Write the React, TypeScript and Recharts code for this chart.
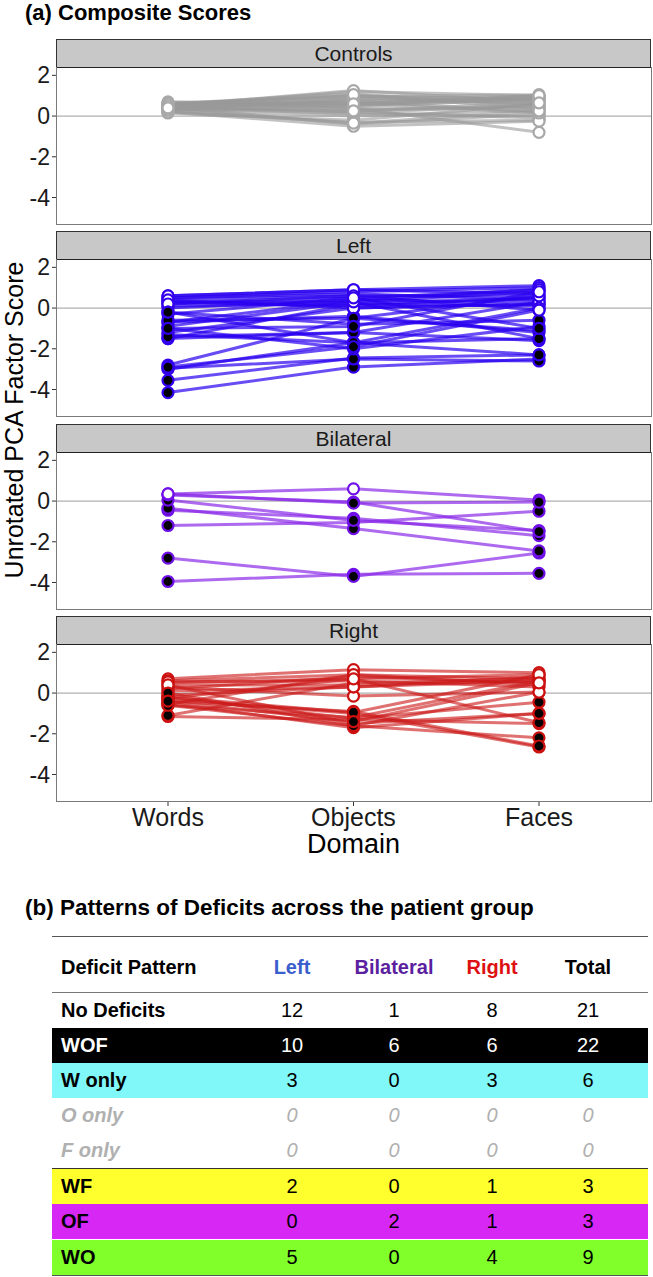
import React from 'react';
import { LineChart, Line, XAxis, YAxis, ReferenceLine } from 'recharts';

const domains = ['Words', 'Objects', 'Faces'];
const domainCodes = ['W', 'O', 'F'];
const yTicks = [2, 0, -2, -4];

// [Words, Objects, Faces] per participant
const controlScores = [
  [0.5, 1.2, 1.0], [0.6, 1.0, 0.8], [0.4, 0.7, 0.9], [0.55, 0.9, 0.6], [0.3, 0.3, 0.4],
  [0.65, 0.5, 1.0], [0.2, -0.3, -0.2], [0.45, -0.4, 0.1], [0.6, 1.1, 0.5], [0.35, 0.8, 0.7],
  [0.5, 0.2, -0.1], [0.7, 0.6, 0.9], [0.25, 0.0, 0.3], [0.4, 0.4, -0.8], [0.55, 0.75, 0.2],
  [0.15, -0.2, 0.6], [0.6, 0.95, 1.05], [0.45, 0.1, 0.0], [0.3, 0.55, 0.8], [0.5, 1.25, 0.7],
  [0.65, 0.35, 0.45], [0.2, -0.5, -0.25], [0.4, 0.85, 0.95], [0.55, 0.65, 0.15], [0.35, 0.15, 0.55],
  [0.6, 0.45, 0.85], [0.45, 1.05, 0.35], [0.3, -0.35, 0.25], [0.5, 0.6, 1.0], [0.4, 0.25, 0.65],
];
const controlPatterns = controlScores.map(() => '');

const leftScores = [
  [0.6, 0.9, 1.1], [0.5, 0.8, 1.0], [0.3, 0.3, 0.8], [0.4, 0.6, 0.6], [0.2, 0.5, 0.9], [0.5, 0.7, 0.4],
  [0.1, 0.2, 0.1], [0.6, 0.9, 0.7], [0.3, 0.1, 0.5], [0.0, 0.4, 0.3], [0.4, 0.0, 0.2], [0.2, 0.6, -0.1],
  [-4.15, -2.9, -2.5], [-3.55, -2.45, -2.3], [-3.0, -1.7, -1.5], [-2.8, -0.5, -1.1], [-2.95, -2.5, -2.6],
  [-1.5, -1.2, -1.6], [-1.3, -1.7, -2.3], [-0.7, -0.4, -1.2], [-1.0, -2.0, -0.9], [-0.2, -0.8, -0.6],
  [-1.5, 0.2, 0.5], [-0.7, 0.4, 0.9], [-1.2, 0.0, 0.2],
  [-0.9, 0.3, -1.5], [-0.3, 0.5, -1.0],
  [-1.4, -1.2, 0.3], [-0.6, -0.5, 0.6], [-0.2, -1.7, 0.0], [-1.0, -0.9, 0.8], [-2.9, -1.9, -0.1],
];
const leftPatterns = [
  '', '', '', '', '', '', '', '', '', '', '', '',
  'WOF', 'WOF', 'WOF', 'WOF', 'WOF', 'WOF', 'WOF', 'WOF', 'WOF', 'WOF',
  'W', 'W', 'W',
  'WF', 'WF',
  'WO', 'WO', 'WO', 'WO', 'WO',
];

const bilateralScores = [
  [0.35, 0.6, 0.05],
  [-3.95, -3.6, -3.55], [-2.8, -3.7, -2.55], [-1.2, -1.05, -0.5], [-0.45, -0.85, -1.7],
  [-0.35, -1.35, -2.45], [0.05, -0.95, -1.45],
  [0.3, -0.05, -1.5], [0.35, -0.1, -0.05],
];
const bilateralPatterns = ['', 'WOF', 'WOF', 'WOF', 'WOF', 'WOF', 'WOF', 'OF', 'OF'];

const rightScores = [
  [0.7, 1.15, 1.0], [0.6, 0.9, 0.7], [0.4, 0.4, 0.6], [0.5, 0.7, 0.9], [0.3, -0.15, 0.05],
  [0.2, 0.8, 0.5], [0.55, 0.6, 0.3], [0.1, 0.3, 0.8],
  [-1.15, -1.3, -1.5], [-0.6, -1.6, -2.2], [-0.3, -1.0, -2.65], [-0.5, -1.7, -1.0],
  [-0.2, -1.25, -0.45], [-0.4, -0.9, -2.6],
  [-1.1, 0.5, 0.7], [-0.55, 0.9, 0.4], [-0.1, 0.3, 0.6],
  [-0.25, 0.7, -1.45],
  [0.4, -1.5, -1.0],
  [-0.6, -1.2, 0.6], [-0.2, -0.95, 0.9], [0.0, -1.6, 0.05], [-0.4, -1.4, 0.5],
];
const rightPatterns = [
  '', '', '', '', '', '', '', '',
  'WOF', 'WOF', 'WOF', 'WOF', 'WOF', 'WOF',
  'W', 'W', 'W',
  'WF',
  'OF',
  'WO', 'WO', 'WO', 'WO',
];

// table (b)
const patternNames = ['No Deficits', 'WOF', 'W only', 'O only', 'F only', 'WF', 'OF', 'WO'];
const leftCounts = [12, 10, 3, 0, 0, 2, 0, 5];
const bilateralCounts = [1, 6, 0, 0, 0, 0, 2, 0];
const rightCounts = [8, 6, 3, 0, 0, 1, 1, 4];
const totalCounts = [21, 22, 6, 0, 0, 3, 3, 9];
const rowColors = ['', '#000000', '#80f8fa', '', '', '#ffff2e', '#d627f5', '#80ff2b'];

const PLOT_H = 157;
const X_AXIS_H = 56;
const TOP_PAD = 14;

function Panel({ title, scores, patterns, lineColor, pointColor, lineOpacity, top, showX }: any) {
  const data = domains.map((d, i) => {
    const row: any = { domain: d };
    scores.forEach((s: number[], j: number) => {
      row['p' + j] = s[i];
    });
    return row;
  });

  return (
    <div style={{ position: 'absolute', left: 0, top, width: 653 }}>
      <div
        style={{
          position: 'absolute',
          left: 56,
          top: 0,
          width: 593,
          height: 27,
          background: '#c8c8c8',
          border: '1px solid #333',
          borderBottomColor: '#222',
        }}
      />
      <div
        style={{
          position: 'absolute',
          left: 57,
          top: 1,
          width: 593,
          height: 27,
          textAlign: 'center',
          lineHeight: '27px',
          fontSize: 21,
          color: '#1a1a1a',
        }}
      >
        {title}
      </div>
      <div style={{ position: 'absolute', left: 0, top: 29 - TOP_PAD }}>
        <LineChart
          width={653}
          height={(showX ? PLOT_H + X_AXIS_H : PLOT_H) + TOP_PAD}
          data={data}
          margin={{ top: TOP_PAD, right: 2, left: 0, bottom: 0 }}
        >
          <XAxis
            dataKey="domain"
            hide={!showX}
            padding={{ left: 112, right: 112 }}
            axisLine={false}
            tickLine={{ stroke: '#333' }}
            tickSize={4}
            tickMargin={2}
            height={X_AXIS_H}
            interval={0}
            tick={{ fontSize: 25, fill: '#1a1a1a' }}
            label={{ value: 'Domain', position: 'insideBottom', offset: 5, fontSize: 27, fill: '#000' }}
          />
          <YAxis
            domain={[-5.35, 2.36]}
            ticks={yTicks}
            interval={0}
            allowDataOverflow
            width={56}
            axisLine={false}
            tickLine={{ stroke: '#333' }}
            tickSize={4}
            tickMargin={2}
            tick={{ fontSize: 23, fill: '#1a1a1a' }}
          />
          <ReferenceLine y={0} stroke="#b0b0b0" strokeWidth={1.3} />
          {scores.map((_: number[], j: number) => (
            <Line
              key={'l' + j}
              dataKey={'p' + j}
              type="linear"
              stroke={lineColor}
              strokeOpacity={lineOpacity}
              strokeWidth={3}
              dot={false}
              activeDot={false}
              isAnimationActive={false}
            />
          ))}
          {scores.map((_: number[], j: number) => (
            <Line
              key={'d' + j}
              dataKey={'p' + j}
              type="linear"
              stroke="none"
              strokeWidth={0}
              activeDot={false}
              isAnimationActive={false}
              dot={(p: any) => {
                const filled = patterns[j].includes(domainCodes[p.index]);
                return (
                  <circle
                    key={`c-${j}-${p.index}`}
                    cx={p.cx}
                    cy={p.cy}
                    r={5.5}
                    fill={filled ? '#000' : '#fff'}
                    stroke={pointColor}
                    strokeWidth={2.2}
                  />
                );
              }}
            />
          ))}
        </LineChart>
        <div
          style={{
            position: 'absolute',
            left: 56,
            top: TOP_PAD - 1,
            width: 594,
            height: PLOT_H,
            border: '1px solid #7a7a7a',
            borderTop: 'none',
            pointerEvents: 'none',
          }}
        />
      </div>
    </div>
  );
}

const countCols = [
  { label: 'Left', color: '#3a5fcd', values: leftCounts, x: 292 },
  { label: 'Bilateral', color: '#5b1fa0', values: bilateralCounts, x: 394 },
  { label: 'Right', color: '#dd1111', values: rightCounts, x: 492 },
  { label: 'Total', color: '#000000', values: totalCounts, x: 588 },
];
const rowTops = [993, 1028, 1063, 1098, 1133, 1169, 1204, 1240];

export default function App() {
  return (
    <div
      style={{
        position: 'relative',
        width: 653,
        height: 1277,
        background: '#fff',
        fontFamily: '"Liberation Sans", Arial, sans-serif',
        overflow: 'hidden',
      }}
    >
      <style>{'body{margin:0}'}</style>

      {/* (a) composite scores */}
      <div style={{ position: 'absolute', left: 25, top: 0, fontSize: 22, fontWeight: 'bold', lineHeight: '26px' }}>
        (a) Composite Scores
      </div>
      <div
        style={{
          position: 'absolute',
          left: 14 - 180,
          top: 420 - 14,
          width: 360,
          height: 28,
          lineHeight: '28px',
          textAlign: 'center',
          fontSize: 25,
          transform: 'rotate(-90deg)',
        }}
      >
        Unrotated PCA Factor Score
      </div>
      <Panel title="Controls" scores={controlScores} patterns={controlPatterns} lineColor="#9a9a9a" pointColor="#a8a8a8" lineOpacity={0.6} top={39} />
      <Panel title="Left" scores={leftScores} patterns={leftPatterns} lineColor="#2a00f0" pointColor="#3300ee" lineOpacity={0.7} top={231} />
      <Panel title="Bilateral" scores={bilateralScores} patterns={bilateralPatterns} lineColor="#8a2be8" pointColor="#7010e8" lineOpacity={0.7} top={424} />
      <Panel title="Right" scores={rightScores} patterns={rightPatterns} lineColor="#cc1a1a" pointColor="#cc1111" lineOpacity={0.62} top={616} showX />

      {/* (b) patterns of deficits */}
      <div style={{ position: 'absolute', left: 25, top: 895.5, fontSize: 22.5, fontWeight: 'bold', lineHeight: '24px' }}>
        (b) Patterns of Deficits across the patient group
      </div>
      <div style={{ position: 'absolute', left: 52, top: 936, width: 596, height: 0, borderTop: '1.5px solid #555' }} />
      <div style={{ position: 'absolute', left: 61, top: 955, fontSize: 20, fontWeight: 'bold', lineHeight: '24px' }}>
        Deficit Pattern
      </div>
      {countCols.map((c) => (
        <div
          key={c.label}
          style={{
            position: 'absolute',
            left: c.x - 60,
            width: 120,
            top: 955,
            textAlign: 'center',
            fontSize: 20,
            fontWeight: 'bold',
            lineHeight: '24px',
            color: c.color,
          }}
        >
          {c.label}
        </div>
      ))}
      <div style={{ position: 'absolute', left: 52, top: 992, width: 596, height: 0, borderTop: '1px solid #777' }} />
      {patternNames.map((name, i) => {
        const bg = rowColors[i];
        const muted = name === 'O only' || name === 'F only';
        const color = bg === '#000000' ? '#fff' : muted ? '#b0b0b0' : '#000';
        return (
          <div
            key={name}
            style={{
              position: 'absolute',
              left: 52,
              top: rowTops[i],
              width: 596,
              height: 35,
              background: bg || 'transparent',
              color,
              fontStyle: muted ? 'italic' : 'normal',
              fontSize: 20,
              lineHeight: '35px',
            }}
          >
            <span style={{ position: 'absolute', left: 9, fontWeight: 'bold' }}>{name}</span>
            {countCols.map((c) => (
              <span key={c.label} style={{ position: 'absolute', left: c.x - 52 - 30, width: 60, textAlign: 'center' }}>
                {c.values[i]}
              </span>
            ))}
          </div>
        );
      })}
      <div style={{ position: 'absolute', left: 52, top: 1168, width: 596, height: 0, borderTop: '1.5px solid #333' }} />
      <div style={{ position: 'absolute', left: 52, top: 1275, width: 596, height: 0, borderTop: '1.5px solid #555' }} />
    </div>
  );
}
